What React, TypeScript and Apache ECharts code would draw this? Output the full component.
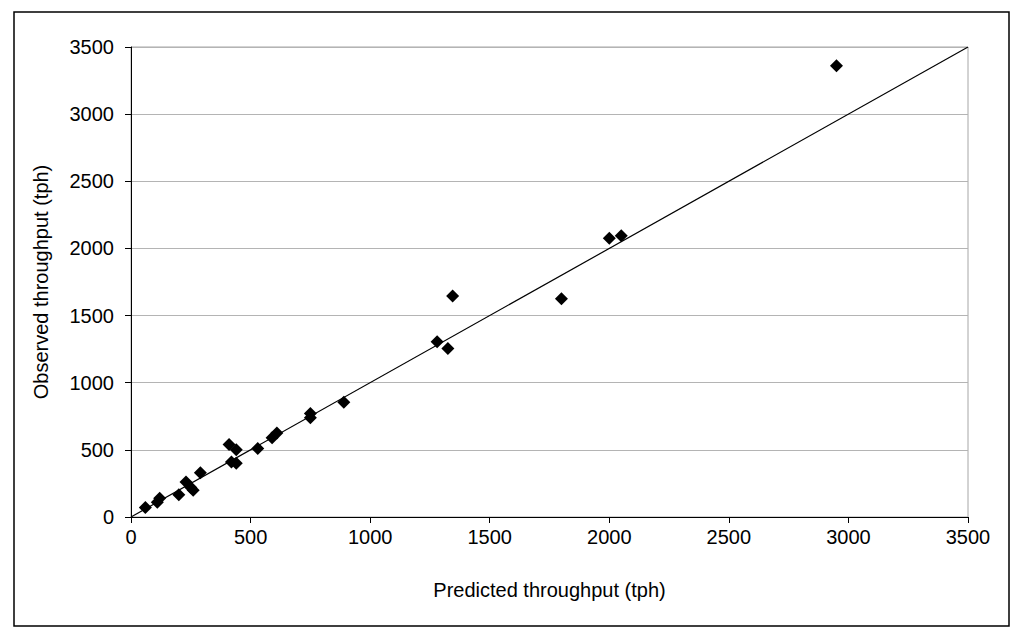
import React, { useEffect, useRef } from "react";
import * as echarts from "echarts";

// Predicted vs observed throughput (tph)
const predicted = [60, 110, 120, 200, 230, 250, 260, 290, 410, 420, 440, 440, 530, 590, 610, 750, 750, 890, 1280, 1325, 1345, 1800, 2000, 2050, 2950];
const observed = [70, 110, 140, 165, 260, 220, 200, 330, 540, 410, 400, 500, 510, 590, 625, 770, 740, 855, 1305, 1255, 1645, 1625, 2075, 2095, 3360];
const lineEnds = [0, 3500];
const axisMin = 0;
const axisMax = 3500;
const axisStep = 500;

export default function App() {
  const ref = useRef<HTMLDivElement>(null);

  useEffect(() => {
    document.body.style.margin = "0";
    const chart = echarts.init(ref.current!, null, { renderer: "svg" });
    const font = "Liberation Sans, Arial, sans-serif";
    const plain = (v: number) => String(v);
    chart.setOption({
      animation: false,
      backgroundColor: "#ffffff",
      grid: {
        left: 131,
        right: 52,
        top: 47,
        bottom: 121,
        show: true,
        borderColor: "#a6a6a6",
        borderWidth: 1,
      },
      xAxis: {
        type: "value",
        min: axisMin,
        max: axisMax,
        interval: axisStep,
        name: "Predicted throughput (tph)",
        nameLocation: "middle",
        nameGap: 63,
        nameTextStyle: { fontFamily: font, fontSize: 20, color: "#000" },
        axisLine: { show: true, lineStyle: { color: "#000", width: 1 } },
        axisTick: { show: true, inside: false, length: 6, lineStyle: { color: "#000" } },
        axisLabel: { fontFamily: font, fontSize: 20, color: "#000", margin: 10, formatter: plain },
        splitLine: { show: false },
      },
      yAxis: {
        type: "value",
        min: axisMin,
        max: axisMax,
        interval: axisStep,
        name: "Observed throughput (tph)",
        nameLocation: "middle",
        nameGap: 80,
        nameTextStyle: { fontFamily: font, fontSize: 20, color: "#000" },
        axisLine: { show: true, lineStyle: { color: "#000", width: 1 } },
        axisTick: { show: true, inside: false, length: 6, lineStyle: { color: "#000" } },
        axisLabel: { fontFamily: font, fontSize: 20, color: "#000", margin: 17, formatter: plain },
        splitLine: { show: true, lineStyle: { color: "#b4b4b4", width: 1 } },
      },
      series: [
        {
          type: "line",
          data: lineEnds.map((v) => [v, v]),
          symbol: "none",
          lineStyle: { color: "#000", width: 1.2 },
          silent: true,
          z: 2,
        },
        {
          type: "scatter",
          data: predicted.map((p, i) => [p, observed[i]]),
          symbol: "diamond",
          symbolSize: 13,
          itemStyle: { color: "#000", opacity: 1 },
          z: 3,
        },
      ],
      graphic: [
        {
          type: "rect",
          shape: { x: 14, y: 12, width: 995, height: 614 },
          style: { fill: "none", stroke: "#000", lineWidth: 1.5 },
          silent: true,
        },
      ],
    });
    return () => chart.dispose();
  }, []);

  return <div ref={ref} style={{ width: 1020, height: 638 }} />;
}
